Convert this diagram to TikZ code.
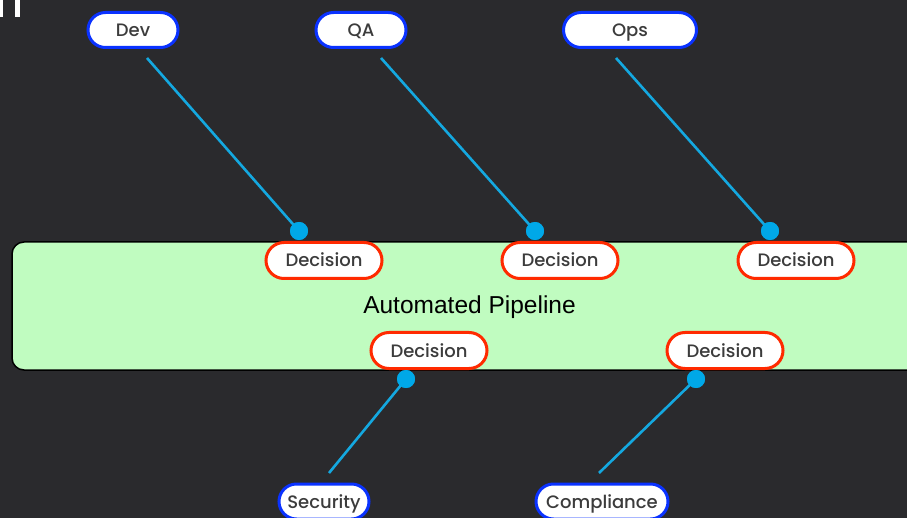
\documentclass[tikz,border=0pt]{standalone}
\usepackage{fontspec}
\setmainfont{Poppins}
\newfontfamily\labelfont{Poppins Medium}
\newfontfamily\pipefont{Liberation Sans}
\usetikzlibrary{shapes.misc}
\definecolor{bgdark}{HTML}{2A2A2D}
\definecolor{pipegreen}{HTML}{C0FCC0}
\definecolor{rolblue}{HTML}{0A32FF}
\definecolor{decred}{HTML}{FF2A00}
\definecolor{linkblue}{HTML}{14A8E0}
\definecolor{dotblue}{HTML}{00A8E8}
\definecolor{txtgray}{HTML}{3C3C3C}
\tikzset{
  x=1pt, y=-1pt,
  pill/.style={rounded rectangle, fill=white, line width=3pt, inner sep=0pt,
    font=\labelfont\fontsize{18}{21}\selectfont, text=txtgray,
    text height=13pt, text depth=0pt},
  rolebox/.style={pill, draw=rolblue, minimum height=35pt},
  decbox/.style={pill, draw=decred, minimum height=36pt, minimum width=116pt},
  dot/.style={circle, fill=dotblue, inner sep=0pt, minimum size=18pt},
  link/.style={draw=linkblue, line width=2.6pt},
}
\begin{document}
\begin{tikzpicture}
\useasboundingbox (0,0) rectangle (907,518);
\clip (0,0) rectangle (907,518);
\fill[bgdark] (0,0) rectangle (907,518);
% partial glyph at top-left
\fill[white] (0,0) rectangle (2.5,17);
\fill[white] (15,0) rectangle (20,17);
% pipeline box
\draw[fill=pipegreen, draw=black, line width=1.5pt, rounded corners=12pt]
  (12,242) rectangle (930,370);
\node[font=\pipefont\fontsize{24.5}{28}\selectfont, text=black, anchor=base, inner sep=0pt] (pipe) at (469.5,314) {Automated Pipeline};
% role nodes
\node[rolebox, minimum width=90pt] (dev) at (133,30) {Dev};
\node[rolebox, minimum width=90pt] (qa) at (361,30) {QA};
\node[rolebox, minimum width=133pt] (ops) at (630,30) {Ops};
\node[rolebox, minimum width=90pt] (sec) at (324,501.5) {Security};
\node[rolebox, minimum width=132pt] (comp) at (602,501.5) {Compliance};
% decision nodes
\node[decbox] (d1) at (324,260.5) {Decision};
\node[decbox] (d2) at (560,260.5) {Decision};
\node[decbox] (d3) at (796,260.5) {Decision};
\node[decbox] (d4) at (429,350.5) {Decision};
\node[decbox] (d5) at (725,350.5) {Decision};
% free ends of links
\coordinate (devend) at (147,58);
\coordinate (qaend) at (381,58);
\coordinate (opsend) at (616,58);
\coordinate (secend) at (329,473);
\coordinate (compend) at (599,473);
% dots
\node[dot] (p1) at (299,231) {};
\node[dot] (p2) at (535,231) {};
\node[dot] (p3) at (770,231) {};
\node[dot] (p4) at (406,379) {};
\node[dot] (p5) at (696,379) {};
% links
\draw[link] (devend) -- (p1.center);
\draw[link] (qaend) -- (p2.center);
\draw[link] (opsend) -- (p3.center);
\draw[link] (secend) -- (p4.center);
\draw[link] (compend) -- (p5.center);
\node[dot] at (p1) {};
\node[dot] at (p2) {};
\node[dot] at (p3) {};
\node[dot] at (p4) {};
\node[dot] at (p5) {};
\end{tikzpicture}
\end{document}
